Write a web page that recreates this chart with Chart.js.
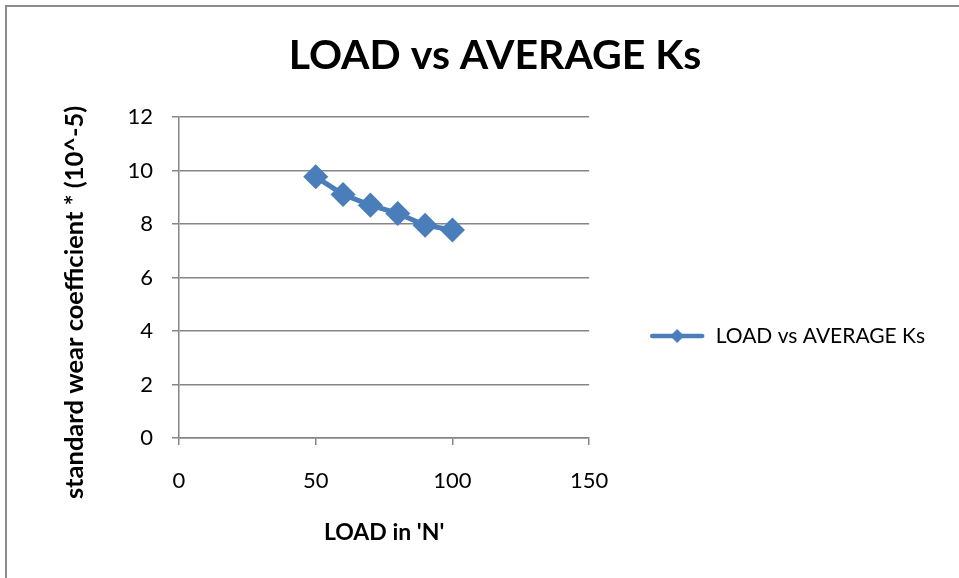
<!DOCTYPE html>
<html>
<head>
<meta charset="utf-8">
<script src="https://cdn.jsdelivr.net/npm/chart.js@4"></script>
<style>
  body { margin: 0; background: #fff; }
  #wrap { position: relative; width: 959px; height: 578px; }
  #frame { position: absolute; left: 5px; top: 5px; right: -2px; bottom: -2px; border-top: 2px solid #8c8c8c; border-left: 2px solid #8c8c8c; }
</style>
</head>
<body>
<div id="wrap">
  <div id="frame"></div>
  <canvas id="myChart" width="959" height="578"></canvas>
</div>
<script>
// data
const loads = [50, 60, 70, 80, 90, 100];
const avgKs = [9.77, 9.11, 8.71, 8.40, 7.96, 7.78];
const xTicks = [0, 50, 100, 150];
const yTicks = [0, 2, 4, 6, 8, 10, 12];

const seriesName = 'LOAD vs AVERAGE Ks';
const blue = '#4a7ebb';
const fontFam = 'Lato, "Open Sans", sans-serif';

// legend marker: line with a diamond on it
function legendMarker() {
    var c = document.createElement('canvas');
    c.width = 56; c.height = 18;
    var ctx = c.getContext('2d');
    ctx.strokeStyle = blue;
    ctx.lineWidth = 4.5;
    ctx.lineCap = 'round';
    ctx.beginPath(); ctx.moveTo(3, 9); ctx.lineTo(53, 9); ctx.stroke();
    ctx.fillStyle = blue;
    ctx.beginPath();
    ctx.moveTo(28, 2); ctx.lineTo(35, 9); ctx.lineTo(28, 16); ctx.lineTo(21, 9);
    ctx.closePath(); ctx.fill();
    return c;
}

const points = loads.map((x, i) => ({ x: x, y: avgKs[i] }));

myChart = new Chart(document.getElementById('myChart'), {
    type: 'scatter',
    data: {
        datasets: [{
            label: seriesName,
            data: points,
            showLine: true,
            borderColor: blue,
            backgroundColor: blue,
            borderWidth: 5,
            pointStyle: 'rectRot',
            pointRadius: 9,
            pointHoverRadius: 9
        }]
    },
    options: {
        responsive: false,
        animation: false,
        layout: { padding: { left: 55, right: 24, top: 0, bottom: 32 } },
        plugins: {
            title: {
                display: true,
                text: 'LOAD vs AVERAGE Ks',
                color: '#000',
                font: { family: fontFam, size: 41, weight: 'bold' },
                padding: { top: 31, bottom: 37 }
            },
            legend: {
                position: 'right',
                maxWidth: 420,
                // empty title only pushes the single entry down to where it sits in the picture
                title: { display: true, text: ' ', color: '#000', font: { size: 10 }, padding: { top: 114, bottom: 0 } },
                labels: {
                    color: '#000',
                    font: { family: fontFam, size: 21 },
                    usePointStyle: true,
                    pointStyleWidth: 56,
                    boxHeight: 18,
                    padding: 60,
                    generateLabels: function(chart) {
                        return [{
                            text: seriesName,
                            fontColor: '#000',
                            pointStyle: legendMarker(),
                            fillStyle: blue,
                            strokeStyle: blue,
                            lineWidth: 0,
                            hidden: false,
                            datasetIndex: 0
                        }];
                    }
                }
            },
            tooltip: { enabled: false }
        },
        scales: {
            x: {
                type: 'linear',
                min: 0, max: 150,
                afterBuildTicks: function(s) { s.ticks = xTicks.map(v => ({ value: v })); },
                afterFit: function(s) { s.height = 108; },
                grid: { drawOnChartArea: false, color: '#868686', tickLength: 7, lineWidth: 1.5 },
                border: { color: '#868686', width: 1.5 },
                ticks: { color: '#000', font: { family: fontFam, size: 22 }, padding: 23 },
                title: {
                    display: true, text: "LOAD in 'N'", color: '#000',
                    font: { family: fontFam, size: 23, weight: 'bold' },
                    padding: { top: 20, bottom: 0 }
                }
            },
            y: {
                type: 'linear',
                min: 0, max: 12,
                afterBuildTicks: function(s) { s.ticks = yTicks.map(v => ({ value: v })); },
                afterFit: function(s) { s.width = 124; },
                grid: { color: '#868686', tickLength: 7, lineWidth: 1.5 },
                border: { color: '#868686', width: 1.5 },
                ticks: { color: '#000', font: { family: fontFam, size: 22 }, padding: 19 },
                title: {
                    display: true, text: 'standard wear coefficient * (10^-5)        ', color: '#000',
                    font: { family: fontFam, size: 25.5, weight: 'bold' },
                    padding: { top: 4, bottom: 0 }
                }
            }
        }
    }
});
</script>
</body>
</html>
